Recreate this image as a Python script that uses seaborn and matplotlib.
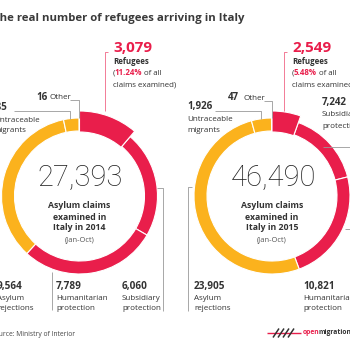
import matplotlib
matplotlib.use("Agg")
import matplotlib.pyplot as plt
import seaborn as sns

# ---- data -------------------------------------------------------------
categories = ["Refugees", "Subsidiary protection", "Humanitarian protection",
              "Asylum rejections", "Untraceable migrants", "Other"]
claims_2014 = [3079, 6060, 7789, 9564, 885, 16]
claims_2015 = [2549, 7242, 10821, 23905, 1926, 47]
totals = [27393, 46490]
refugee_share = ["11.24%", "5.48%"]
years = ["2014", "2015"]

RED = "#E91E4B"
YELLOW = "#FBB21D"
DARK = "#333333"
GREY = "#999999"
PINK = "#F27B96"
seg_colors = [RED, RED, RED, YELLOW, YELLOW, YELLOW]

sns.set_theme(style="white")
plt.rcParams["font.family"] = ["Open Sans", "DejaVu Sans"]

fig = plt.figure(figsize=(3.5, 3.5), dpi=100)
ax = fig.add_axes([0, 0, 1, 1])

H = 350


def Y(y):
    return H - y


def txt(x, y, s, size=6, weight="normal", color=DARK, **kw):
    return ax.text(x, Y(y), s, fontsize=size, fontweight=weight, color=color,
                   va="center", ha=kw.pop("ha", "left"), **kw)


def line(xs, ys, color=GREY, lw=0.6):
    ax.plot(xs, [Y(v) for v in ys], color=color, lw=lw, solid_capstyle="butt")


def donut(values, cx, cy):
    center = (cx, Y(cy))
    ax.pie(values, colors=seg_colors, startangle=90, counterclock=False,
           radius=78, center=center, frame=True,
           wedgeprops=dict(width=13, edgecolor="white", linewidth=0.8))
    # the refugee slice is drawn wider than the rest of the ring
    wedges, _ = ax.pie(values, colors=seg_colors, startangle=90,
                       counterclock=False, radius=85, center=center, frame=True,
                       wedgeprops=dict(width=21, edgecolor="white", linewidth=0.8))
    for w in wedges[1:]:
        w.set_visible(False)


def after(prev, s, size, weight="normal", color=DARK, gap=0):
    return ax.annotate(s, xy=(1, 0), xycoords=prev, xytext=(gap, 0),
                       textcoords="offset points", fontsize=size,
                       fontweight=weight, color=color, va="bottom")


# ---- rings ------------------------------------------------------------
centers = [(79.5, 196), (272, 196)]
donut(claims_2014, *centers[0])
donut(claims_2015, *centers[1])
ax.set_xlim(0, 350)
ax.set_ylim(0, 350)
ax.set_aspect("equal")
ax.axis("off")

# ---- title ------------------------------------------------------------
txt(-7, 19, "The real number of refugees arriving in Italy", size=8.2,
    weight="bold", color="#3a3a3a")

# centre captions
for (cx, cy), total, year in zip(centers, totals, years):
    ax.text(cx + 1, Y(178), f"{total:,}", fontsize=21, fontweight="light",
            family=["Roboto", "DejaVu Sans"], color="#222222",
            ha="center", va="center")
    txt(cx, 206, "Asylum claims", size=6.3, weight="bold", ha="center")
    txt(cx, 217, "examined in", size=6.3, weight="bold", ha="center")
    txt(cx, 228, f"Italy in {year}", size=6.3, weight="bold", ha="center")
    txt(cx, 240, "(Jan-Oct)", size=5.4, color="#555555", ha="center")


def refugee_label(x_line, x_text, value, share):
    line([x_line + 3, x_line, x_line], [52, 52, 111], color=PINK, lw=0.7)
    txt(x_text, 47.5, f"{value:,}", size=11, weight="bold", color=RED)
    txt(x_text, 62, "Refugees", size=5.7, weight="bold")
    a = txt(x_text, 73.5, "(", size=5.7)
    b = after(a, share, 5.7, weight="bold", color=RED, gap=-0.3)
    after(b, " of all", 5.7, gap=-0.3)
    txt(x_text, 85, "claims examined)", size=5.7)


refugee_label(105, 113, claims_2014[0], refugee_share[0])
refugee_label(284, 292, claims_2015[0], refugee_share[1])

# ---- 2014 side labels -------------------------------------------------
txt(36, 97, f"{claims_2014[5]}", size=7, weight="bold")
txt(49, 97.5, "Other", size=5.8)
line([70, 78.5, 78.5], [100, 100, 118])
txt(-9, 107.5, f"{claims_2014[4]:,}", size=7, weight="bold")
line([14, 70, 70], [111, 111, 119])
txt(-6, 120, "Untraceable", size=5.8)
txt(-6.5, 130.5, "migrants", size=5.8)

bottom_val_y, bottom_l1, bottom_l2 = 287, 298, 308.5
txt(-3, bottom_val_y, f"{claims_2014[3]:,}", size=7.2, weight="bold")
txt(-3, bottom_l1, "Asylum", size=5.8)
txt(-3, bottom_l2, "rejections", size=5.8)
line([52, 52], [272, 310])
txt(56, bottom_val_y, f"{claims_2014[2]:,}", size=7.2, weight="bold")
txt(56, bottom_l1, "Humanitarian", size=5.8)
txt(56, bottom_l2, "protection", size=5.8)
line([157, 163, 163], [188, 188, 311])
txt(122, bottom_val_y, f"{claims_2014[1]:,}", size=7.2, weight="bold")
txt(122, bottom_l1, "Subsidiary", size=5.8)
txt(122, bottom_l2, "protection", size=5.8)

# ---- 2015 side labels -------------------------------------------------
txt(228, 97.5, f"{claims_2015[5]}", size=7, weight="bold")
txt(243, 98, "Other", size=5.8)
line([264, 271.5, 271.5], [100.5, 100.5, 118])
txt(187, 107, f"{claims_2015[4]:,}", size=7, weight="bold")
line([215, 261, 261], [110.5, 110.5, 119])
txt(187, 119.5, "Untraceable", size=5.8)
txt(187, 130, "migrants", size=5.8)
txt(322, 103, f"{claims_2015[1]:,}", size=7, weight="bold")
txt(322, 115, "Subsidiary", size=5.8)
txt(322, 126, "protection", size=5.8)
line([323, 352], [147, 147])
line([345, 352], [229, 229])

line([192, 188, 188], [187, 187, 311])
txt(194, bottom_val_y, f"{claims_2015[3]:,}", size=7.2, weight="bold")
txt(194, bottom_l1, "Asylum", size=5.8)
txt(194, bottom_l2, "rejections", size=5.8)
txt(303, bottom_val_y, f"{claims_2015[2]:,}", size=7.2, weight="bold")
txt(303, bottom_l1, "Humanitarian", size=5.8)
txt(303, bottom_l2, "protection", size=5.8)

# ---- footer -----------------------------------------------------------
txt(-9, 334, "Source: Ministry of Interior", size=4.9, color="#444444")

line([267, 301], [333, 333], color=RED, lw=1.0)
for x0 in (273, 278, 283, 288):
    line([x0, x0 + 6], [337.5, 328.5], color=DARK, lw=1.1)
o = txt(303, 333, "open", size=4.9, weight="bold", color=RED)
after(o, "migration.org", 4.9, weight="bold", gap=-1.1)

fig.savefig("out.png", dpi=100)
